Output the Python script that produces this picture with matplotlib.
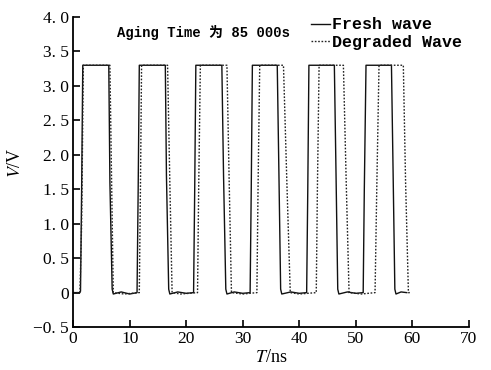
import matplotlib
matplotlib.use('Agg')
import matplotlib.pyplot as plt

# Waveform vertices (time in ns, voltage in V)
fresh_t = [0, 1.1, 1.3, 1.5, 1.7, 6.3, 6.5, 6.9, 7.1, 8.5, 10.0, 11.3, 11.5, 11.7,
           16.3, 16.5, 16.9, 17.1, 18.5, 20.0, 21.3, 21.5, 21.7,
           26.3, 26.6, 27.0, 27.2, 28.5, 30.0, 31.3, 31.5, 31.7,
           36.1, 36.4, 36.7, 36.9, 38.5, 40.0, 41.3, 41.5, 41.7,
           46.2, 46.5, 46.8, 47.0, 48.5, 50.0, 51.3, 51.5, 51.8,
           56.3, 56.6, 56.9, 57.1, 58.0, 59.0]
fresh_v = [0, 0, 0.02, 1.5, 3.3, 3.3, 1.6, 0.05, -0.02, 0.01, -0.02, 0.0, 1.5, 3.3,
           3.3, 1.7, 0.05, -0.02, 0.01, -0.01, 0.0, 1.5, 3.3,
           3.3, 1.7, 0.05, -0.02, 0.01, -0.01, 0.0, 1.5, 3.3,
           3.3, 1.7, 0.05, -0.02, 0.01, -0.01, 0.0, 1.5, 3.3,
           3.3, 1.7, 0.05, -0.02, 0.01, -0.01, 0.0, 1.5, 3.3,
           3.3, 1.7, 0.05, -0.02, 0.01, 0.0]

degraded_t = [0, 1.2, 1.5, 1.8, 6.5, 6.8, 7.1, 9.0, 11.7, 11.9, 12.1,
              16.7, 17.1, 17.5, 19.0, 22.0, 22.2, 22.5,
              27.2, 27.6, 28.0, 30.0, 32.5, 32.7, 33.0,
              37.2, 37.8, 38.4, 40.0, 43.0, 43.2, 43.5,
              47.8, 48.3, 48.8, 51.0, 53.4, 53.7, 54.1,
              58.4, 58.8, 59.3, 59.6]
degraded_v = [0, 0, 1.0, 3.3, 3.3, 1.6, 0.0, -0.02, 0.0, 1.5, 3.3,
              3.3, 1.6, 0.0, -0.02, 0.0, 1.5, 3.3,
              3.3, 1.6, 0.0, -0.02, 0.0, 1.5, 3.3,
              3.3, 1.6, 0.0, -0.02, 0.0, 1.5, 3.3,
              3.3, 1.6, 0.0, -0.02, 0.0, 1.5, 3.3,
              3.3, 1.6, 0.0, 0.0]

x_ticks = [0, 10, 20, 30, 40, 50, 60, 70]
y_ticks = [-0.5, 0, 0.5, 1.0, 1.5, 2.0, 2.5, 3.0, 3.5, 4.0]
y_labels = ['\u22120. 5', '0', '0. 5', '1. 0', '1. 5', '2. 0', '2. 5', '3. 0', '3. 5', '4. 0']

SERIF = ['Liberation Serif', 'Noto Sans CJK SC']
MONO = ['Liberation Mono', 'Noto Sans CJK SC']

plt.rcParams['mathtext.fontset'] = 'stix'

fig = plt.figure(figsize=(4.91, 3.70), dpi=100, facecolor='white')
ax = fig.add_axes([0.149, 0.116, 0.806, 0.838])

ax.plot(fresh_t, fresh_v, color='#111111', linewidth=1.0, label='Fresh wave')
ax.plot(degraded_t, degraded_v, color='#222222', linewidth=1.0,
        linestyle=(0, (1.2, 1.2)), label='Degraded Wave')

ax.set_xlim(0, 70)
ax.set_ylim(-0.5, 4.0)
ax.set_xticks(x_ticks)
ax.set_yticks(y_ticks)
ax.set_yticklabels(y_labels)
ax.tick_params(direction='in', length=5, width=1.2, labelsize=12.5, pad=3)
for lab in ax.get_xticklabels() + ax.get_yticklabels():
    lab.set_family(SERIF)

for side in ['top', 'right']:
    ax.spines[side].set_visible(False)
for side in ['left', 'bottom']:
    ax.spines[side].set_linewidth(1.3)

ax.set_xlabel('$T$/ns', fontsize=13, family=SERIF, labelpad=1)
ax.set_ylabel('$V$/V', fontsize=13, family=SERIF)
ax.yaxis.set_label_coords(-0.123, 0.53)

ax.text(7.8, 3.77, 'Aging Time 为 85 000s', fontsize=10, family=MONO,
        weight='bold', va='center', ha='left')

ax.legend(loc='upper left', bbox_to_anchor=(0.585, 1.02), frameon=False,
          handlelength=1.1, handletextpad=0.15, borderaxespad=0,
          labelspacing=0.15, prop={'family': MONO, 'size': 12, 'weight': 'bold'})

fig.savefig('out.png', dpi=100, facecolor='white')
